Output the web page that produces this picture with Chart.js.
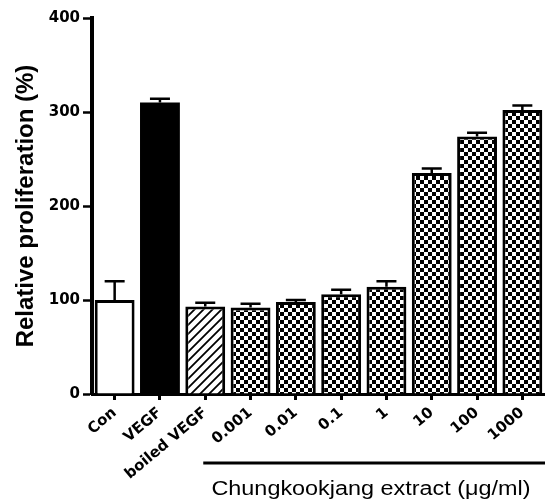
<!DOCTYPE html>
<html>
<head>
<meta charset="utf-8">
<script src="https://cdn.jsdelivr.net/npm/chart.js@4.4.0/dist/chart.umd.min.js"></script>
<style>
  html, body { margin: 0; padding: 0; background: #fff; }
  #wrap { width: 545px; height: 503px; }
</style>
</head>
<body>
<div id="wrap"><canvas id="chart" width="545" height="503"></canvas></div>
<script>
const categories = ["Con", "VEGF", "boiled VEGF", "0.001", "0.01", "0.1", "1", "10", "100", "1000"];
const proliferation = [100, 310, 93, 92, 98, 106, 114, 235, 274, 302];
const errors = [20, 4, 4, 4, 2, 5, 6, 5, 4, 5];
const yTicks = [0, 100, 200, 300, 400];
const groupLabel = "Chungkookjang extract (\u03bcg/ml)";

// fill patterns
function checkerPattern() {
  const c = document.createElement("canvas");
  c.width = 8; c.height = 8;
  const g = c.getContext("2d");
  g.fillStyle = "#fff";
  g.fillRect(0, 0, 8, 8);
  g.fillStyle = "#000";
  g.fillRect(0, 0, 4, 4);
  g.fillRect(4, 4, 4, 4);
  return g.createPattern(c, "repeat");
}

function hatchPattern() {
  const s = 9;
  const c = document.createElement("canvas");
  c.width = s; c.height = s;
  const g = c.getContext("2d");
  g.fillStyle = "#fff";
  g.fillRect(0, 0, s, s);
  g.strokeStyle = "#000";
  g.lineWidth = 1.8;
  g.beginPath();
  g.moveTo(0, s); g.lineTo(s, 0);
  g.moveTo(-s / 2, s / 2); g.lineTo(s / 2, -s / 2);
  g.moveTo(s / 2, s * 1.5); g.lineTo(s * 1.5, s / 2);
  g.stroke();
  return g.createPattern(c, "repeat");
}

const checker = checkerPattern();
const fills = ["#fff", "#000", hatchPattern()].concat(categories.slice(3).map(() => checker));
// solid black bar needs no separate border (avoids a seam)
const borders = categories.map((c, i) => (i === 1 ? 0 : 3));

// error bars (upper only)
const errorBars = {
  id: "errorBars",
  afterDatasetsDraw(chart) {
    const ctx = chart.ctx;
    const y = chart.scales.y;
    const meta = chart.getDatasetMeta(0);
    ctx.save();
    ctx.strokeStyle = "#000";
    ctx.lineWidth = 2.5;
    meta.data.forEach((bar, i) => {
      const top = y.getPixelForValue(proliferation[i]);
      const cap = y.getPixelForValue(proliferation[i] + errors[i]);
      ctx.beginPath();
      ctx.moveTo(bar.x, top);
      ctx.lineTo(bar.x, cap);
      ctx.moveTo(bar.x - 10, cap);
      ctx.lineTo(bar.x + 10, cap);
      ctx.stroke();
    });
    ctx.restore();
  }
};

// bracket line and label under the extract doses
const groupAxis = {
  id: "groupAxis",
  afterDraw(chart) {
    const ctx = chart.ctx;
    const x = chart.scales.x;
    const x0 = x.getPixelForValue(2) - 2;
    const x1 = chart.chartArea.right;
    ctx.save();
    ctx.strokeStyle = "#000";
    ctx.lineWidth = 3;
    ctx.beginPath();
    ctx.moveTo(x0, 463);
    ctx.lineTo(x1, 463);
    ctx.stroke();
    ctx.fillStyle = "#000";
    ctx.font = "19.5px 'Liberation Sans', Arial, sans-serif";
    ctx.textAlign = "center";
    ctx.textBaseline = "alphabetic";
    ctx.translate(371, 495);
    ctx.scale(1.2, 1);
    ctx.fillText(groupLabel, 0, 0);
    ctx.restore();
  }
};

new Chart(document.getElementById("chart"), {
  type: "bar",
  data: {
    labels: categories,
    datasets: [{
      data: proliferation,
      backgroundColor: fills,
      borderColor: "#000",
      borderWidth: borders,
      categoryPercentage: 1,
      barPercentage: 0.88
    }]
  },
  options: {
    responsive: false,
    animation: false,
    events: [],
    layout: { padding: { top: 18, right: 0, left: 0, bottom: 0 } },
    plugins: { legend: { display: false }, tooltip: { enabled: false } },
    scales: {
      x: {
        offset: true,
        grid: {
          offset: false,
          drawOnChartArea: false,
          drawTicks: true,
          tickLength: 6,
          tickWidth: 3,
          color: "#000"
        },
        border: { color: "#000", width: 3 },
        ticks: {
          color: "#000",
          font: { family: "'DejaVu Sans'", size: 15, weight: "bold" },
          minRotation: 40,
          maxRotation: 40,
          padding: 4,
          autoSkip: false
        },
        afterFit(scale) { scale.height = 109; }
      },
      y: {
        min: 0,
        max: 400,
        afterBuildTicks(scale) { scale.ticks = yTicks.map(v => ({ value: v })); },
        grid: {
          drawOnChartArea: false,
          drawTicks: true,
          tickLength: 9,
          tickWidth: 2.5,
          color: "#000"
        },
        border: { color: "#000", width: 4 },
        ticks: {
          color: "#000",
          font: { family: "'DejaVu Sans'", size: 15, weight: "bold" },
          padding: 3
        },
        title: {
          display: true,
          text: "Relative proliferation (%)",
          color: "#000",
          font: { family: "'Liberation Sans', Arial, sans-serif", size: 24, weight: "bold" },
          padding: { top: 12, bottom: 0 }
        },
        afterFit(scale) { scale.width = 92; }
      }
    }
  },
  plugins: [errorBars, groupAxis]
});
</script>
</body>
</html>
